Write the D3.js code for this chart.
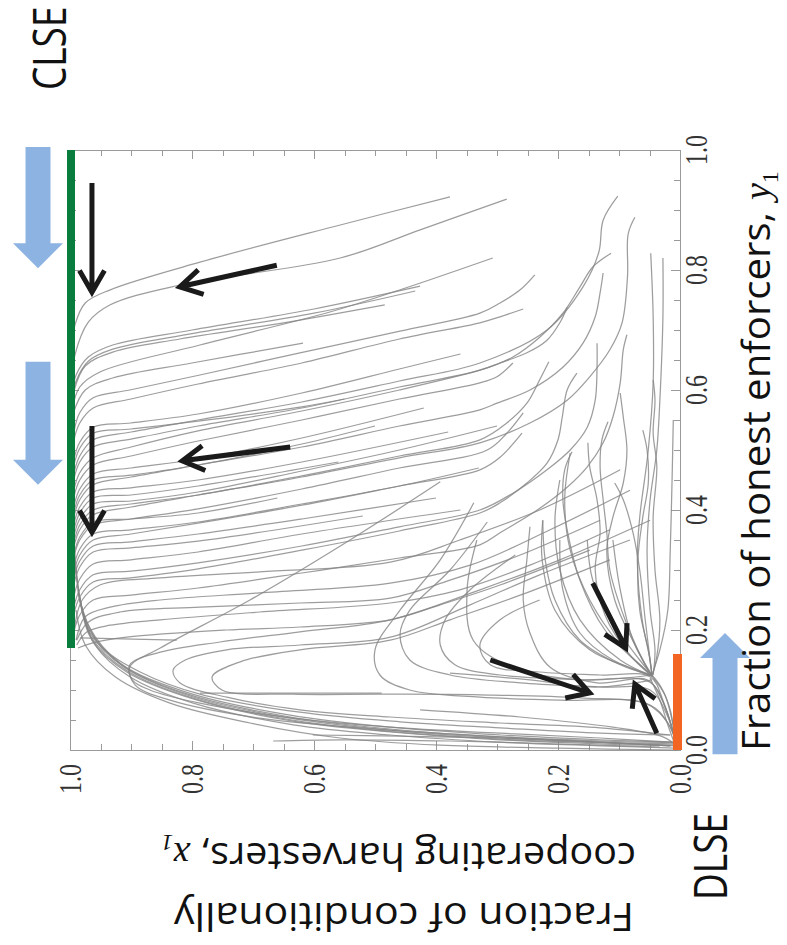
<!DOCTYPE html>
<meta charset="utf-8">
<style>
  body { margin: 0; background: #fff; }
  svg { display: block; }
  .traj { fill: none; stroke: #858585; stroke-width: 1.25; stroke-opacity: 0.8; }
  .frame path, .frame line { stroke: #9a9a9a; stroke-width: 1; shape-rendering: crispEdges; }
  .tick-label { font-family: "Liberation Serif", "Times New Roman", serif; font-size: 24px; fill: #333; }
  .axis-title { font-family: "Open Sans", sans-serif; font-size: 38px; fill: #111; }
  .eq-label { font-family: "Open Sans", sans-serif; font-size: 37px; fill: #111; }
  .flow-arrow { fill: none; stroke: #1a1a1a; stroke-width: 5; stroke-linejoin: miter; }
</style>
<svg width="787" height="945"></svg>
<script src="https://cdn.jsdelivr.net/npm/d3@7"></script>
<script>
  'use strict';

  // trajectories, points are [x1, y1]
  // upper flows that run into the CLSE line x1 = 1
  const upperFlows = [
    [[0.377,0.922],[0.557,0.875],[0.787,0.813],[0.934,0.767],[0.975,0.745],[0.992,0.708],[0.997,0.675]],
    [[0.284,0.918],[0.426,0.867],[0.557,0.82],[0.82,0.775],[0.934,0.742],[0.97,0.713],[0.992,0.658],[0.997,0.617]],
    [[0.426,0.773],[0.60,0.735],[0.80,0.70],[0.93,0.675],[0.97,0.655],[0.99,0.625],[0.998,0.59]],
    [[0.434,0.765],[0.60,0.728],[0.80,0.694],[0.93,0.668],[0.97,0.648],[0.99,0.615],[0.998,0.58]],
    [[0.484,0.742],[0.65,0.712],[0.82,0.685],[0.93,0.663],[0.975,0.64],[0.993,0.60]],
    [[0.618,0.678],[0.80,0.645],[0.93,0.62],[0.975,0.60],[0.995,0.56]],
    [[0.307,0.82],[0.45,0.77],[0.574,0.73],[0.787,0.675],[0.951,0.63],[0.984,0.605],[0.997,0.565]],
    [[0.36,0.66],[0.46,0.635],[0.62,0.595],[0.79,0.56],[0.90,0.545],[0.962,0.538],[0.984,0.513],[0.994,0.483]],
    [[0.55,0.585],[0.62,0.572],[0.79,0.548],[0.90,0.535],[0.962,0.528],[0.984,0.503],[0.994,0.473]],
    [[0.42,0.57],[0.62,0.52],[0.79,0.485],[0.90,0.47],[0.962,0.46],[0.984,0.435],[0.994,0.405]],
    [[0.50,0.54],[0.62,0.51],[0.79,0.475],[0.90,0.458],[0.962,0.45],[0.984,0.425],[0.994,0.395]],
    [[0.38,0.53],[0.62,0.48],[0.79,0.45],[0.90,0.437],[0.962,0.43],[0.984,0.405],[0.994,0.375]],
    [[0.56,0.48],[0.79,0.44],[0.90,0.425],[0.962,0.42],[0.984,0.395],[0.994,0.365]],
    [[0.30,0.54],[0.46,0.50],[0.62,0.465],[0.79,0.43],[0.90,0.415],[0.962,0.41],[0.984,0.385],[0.994,0.355]],
    [[0.66,0.42],[0.79,0.395],[0.90,0.385],[0.962,0.38],[0.984,0.355],[0.994,0.325]],
    [[0.33,0.47],[0.46,0.44],[0.62,0.41],[0.79,0.38],[0.90,0.367],[0.962,0.36],[0.984,0.335],[0.994,0.305]],
    [[0.40,0.42],[0.62,0.385],[0.79,0.36],[0.90,0.347],[0.962,0.34],[0.984,0.315],[0.994,0.285]],
    [[0.52,0.39],[0.79,0.348],[0.90,0.337],[0.962,0.33],[0.984,0.305],[0.994,0.275]],
    [[0.36,0.40],[0.62,0.36],[0.79,0.33],[0.90,0.317],[0.962,0.31],[0.984,0.285],[0.994,0.255]]
  ];

  // flows that start near x1 = 0 at high y1, drop, then swing over to x1 = 1
  const sweepFlows = [
    [[0.102,0.923],[0.126,0.883],[0.133,0.83],[0.159,0.772],[0.218,0.70],[0.328,0.645],[0.46,0.615],[0.62,0.58],[0.79,0.55],[0.90,0.53],[0.962,0.517],[0.984,0.49],[0.994,0.46]],
    [[0.074,0.888],[0.085,0.86],[0.086,0.79],[0.095,0.712],[0.115,0.667],[0.148,0.622],[0.185,0.583],[0.246,0.545],[0.328,0.512],[0.46,0.487],[0.62,0.455],[0.79,0.425],[0.90,0.405],[0.962,0.392],[0.984,0.367],[0.994,0.337]],
    [[0.113,0.828],[0.143,0.805],[0.164,0.772],[0.192,0.728],[0.23,0.688],[0.274,0.655],[0.328,0.633],[0.46,0.605],[0.62,0.57],[0.79,0.54],[0.90,0.518],[0.962,0.505],[0.984,0.48],[0.994,0.45]],
    [[0.126,0.795],[0.131,0.762],[0.139,0.722],[0.159,0.678],[0.192,0.638],[0.246,0.60],[0.30,0.578],[0.328,0.567],[0.46,0.54],[0.62,0.505],[0.79,0.475],[0.90,0.455],[0.962,0.442],[0.984,0.417],[0.994,0.387]],
    [[0.185,0.738],[0.197,0.712],[0.218,0.683],[0.251,0.662],[0.295,0.645],[0.328,0.633],[0.46,0.60],[0.62,0.565],[0.79,0.532],[0.90,0.505],[0.962,0.487],[0.984,0.462],[0.994,0.432]],
    [[0.238,0.792],[0.262,0.767],[0.295,0.745],[0.328,0.728],[0.459,0.698],[0.623,0.662],[0.787,0.625],[0.902,0.60],[0.962,0.587],[0.984,0.562],[0.993,0.533]],
    [[0.257,0.735],[0.295,0.722],[0.328,0.712],[0.46,0.685],[0.62,0.645],[0.79,0.61],[0.90,0.585],[0.962,0.57],[0.984,0.545],[0.994,0.515]],
    [[0.087,0.692],[0.093,0.667],[0.098,0.612],[0.11,0.555],[0.126,0.512],[0.152,0.472],[0.185,0.438],[0.234,0.40],[0.295,0.362],[0.328,0.342],[0.46,0.32],[0.62,0.295],[0.79,0.27],[0.90,0.258],[0.962,0.25],[0.984,0.225],[0.994,0.195]],
    [[0.136,0.678],[0.136,0.638],[0.139,0.583],[0.152,0.538],[0.18,0.50],[0.218,0.467],[0.274,0.428],[0.328,0.40],[0.46,0.372],[0.62,0.34],[0.79,0.312],[0.90,0.298],[0.962,0.292],[0.984,0.267],[0.994,0.237]],
    [[0.169,0.628],[0.185,0.60],[0.193,0.555],[0.20,0.517],[0.218,0.478],[0.251,0.445],[0.295,0.412],[0.328,0.395],[0.46,0.365],[0.62,0.333],[0.79,0.302],[0.90,0.287],[0.962,0.28],[0.984,0.255],[0.994,0.225]],
    [[0.215,0.647],[0.23,0.617],[0.251,0.578],[0.284,0.545],[0.328,0.517],[0.46,0.49],[0.62,0.457],[0.79,0.425],[0.90,0.41],[0.962,0.40],[0.984,0.375],[0.994,0.345]],
    [[0.274,0.645],[0.30,0.622],[0.328,0.612],[0.46,0.585],[0.62,0.55],[0.79,0.515],[0.90,0.49],[0.962,0.475],[0.984,0.45],[0.994,0.42]],
    [[0.257,0.562],[0.284,0.528],[0.316,0.50],[0.46,0.47],[0.62,0.435],[0.79,0.402],[0.90,0.385],[0.962,0.375],[0.984,0.35],[0.994,0.32]],
    [[0.259,0.528],[0.295,0.488],[0.328,0.467],[0.46,0.44],[0.62,0.408],[0.79,0.378],[0.90,0.36],[0.962,0.35],[0.984,0.325],[0.994,0.295]],
    [[0.098,0.467],[0.23,0.40],[0.361,0.35],[0.475,0.313],[0.689,0.297],[0.852,0.287],[0.951,0.275],[0.98,0.25],[0.992,0.208]],
    [[0.082,0.433],[0.213,0.367],[0.344,0.308],[0.475,0.278],[0.689,0.262],[0.852,0.25],[0.934,0.238],[0.975,0.222],[0.99,0.183]],
    [[0.131,0.383],[0.262,0.325],[0.377,0.283],[0.475,0.253],[0.623,0.245],[0.787,0.238],[0.918,0.23],[0.97,0.213],[0.989,0.183]],
    [[0.115,0.367],[0.246,0.308],[0.361,0.267],[0.475,0.245],[0.689,0.23],[0.852,0.217],[0.934,0.208],[0.972,0.197],[0.989,0.175]],
    [[0.148,0.333],[0.295,0.275],[0.393,0.242],[0.475,0.217],[0.623,0.205],[0.743,0.20],[0.907,0.188],[0.964,0.178],[0.987,0.17]]
  ];

  // loops in the lower half that turn back towards x1 = 0
  const loopFlows = [
    [[0.049,0.383],[0.197,0.317],[0.328,0.267],[0.475,0.217],[0.623,0.197],[0.754,0.18],[0.852,0.163],[0.902,0.142],[0.898,0.117],[0.869,0.10],[0.787,0.078],[0.634,0.053],[0.475,0.038],[0.295,0.028],[0.131,0.02],[0.013,0.013]],
    [[0.082,0.35],[0.23,0.292],[0.344,0.242],[0.475,0.188],[0.623,0.175],[0.743,0.167],[0.811,0.15],[0.831,0.133],[0.82,0.112],[0.743,0.088],[0.623,0.067],[0.475,0.055],[0.295,0.045],[0.131,0.037],[0.016,0.025]],
    [[0.115,0.317],[0.262,0.258],[0.377,0.217],[0.475,0.183],[0.623,0.167],[0.721,0.147],[0.767,0.122],[0.751,0.10],[0.634,0.093],[0.489,0.093],[0.328,0.092],[0.164,0.087],[0.049,0.075],[0.02,0.045],[0.006,0.012]],
    [[0.787,0.095],[0.639,0.095],[0.489,0.095]],
    [[0.338,0.412],[0.393,0.317],[0.459,0.233],[0.50,0.167],[0.492,0.125],[0.443,0.10],[0.328,0.088],[0.197,0.083],[0.057,0.078],[0.02,0.045],[0.006,0.012]],
    [[0.316,0.38],[0.377,0.30],[0.443,0.233],[0.459,0.192],[0.443,0.15],[0.377,0.125],[0.262,0.112],[0.131,0.105],[0.049,0.10],[0.022,0.06],[0.007,0.015]],
    [[0.27,0.325],[0.344,0.267],[0.385,0.217],[0.393,0.175],[0.369,0.142],[0.295,0.125],[0.164,0.117],[0.049,0.113],[0.024,0.07],[0.008,0.018]],
    [[0.23,0.25],[0.295,0.217],[0.328,0.175],[0.311,0.142],[0.23,0.13],[0.131,0.125],[0.049,0.122],[0.027,0.08],[0.009,0.02]],
    [[0.246,0.372],[0.251,0.317],[0.257,0.25],[0.246,0.195],[0.213,0.138],[0.136,0.112],[0.054,0.117],[0.03,0.085],[0.01,0.025]],
    [[0.225,0.383],[0.221,0.317],[0.205,0.25],[0.164,0.183],[0.098,0.142],[0.049,0.125]],
    [[0.18,0.495],[0.189,0.417],[0.18,0.333],[0.148,0.25],[0.098,0.175],[0.052,0.13]],
    [[0.197,0.45],[0.205,0.383],[0.197,0.30],[0.164,0.217],[0.098,0.15],[0.049,0.125]],
    [[0.377,0.128],[0.246,0.117],[0.136,0.105],[0.046,0.117]],
    [[0.333,0.35],[0.349,0.267],[0.339,0.183],[0.274,0.138],[0.164,0.117],[0.046,0.125]],
    [[0.197,0.35],[0.192,0.267],[0.164,0.195],[0.11,0.15],[0.046,0.125]],
    [[0.152,0.35],[0.143,0.283],[0.11,0.212],[0.066,0.15],[0.046,0.125]],
    [[0.11,0.35],[0.098,0.267],[0.077,0.183],[0.046,0.125]],
    [[0.393,0.447],[0.541,0.35],[0.705,0.25],[0.852,0.17],[0.902,0.138],[0.893,0.108],[0.836,0.083],[0.689,0.053],[0.475,0.033],[0.295,0.022],[0.131,0.013],[0.016,0.007]]
  ];

  // near-vertical flows close to x1 = 0 that fall into the DLSE corner
  const edgeFlows = [
    [[0.048,0.828],[0.044,0.722],[0.044,0.612],[0.052,0.50],[0.066,0.388],[0.07,0.317],[0.062,0.217],[0.049,0.15],[0.046,0.125]],
    [[0.028,0.82],[0.028,0.722],[0.033,0.583],[0.038,0.50],[0.049,0.417],[0.054,0.333],[0.049,0.233],[0.041,0.167],[0.044,0.125]],
    [[0.044,0.617],[0.041,0.583],[0.044,0.528],[0.038,0.472],[0.044,0.388],[0.041,0.30],[0.033,0.217],[0.039,0.15],[0.046,0.122]],
    [[0.098,0.595],[0.093,0.555],[0.087,0.50],[0.093,0.445],[0.11,0.388],[0.12,0.333],[0.107,0.25],[0.074,0.175],[0.048,0.125]],
    [[0.118,0.547],[0.128,0.517],[0.131,0.472],[0.126,0.417],[0.12,0.362],[0.115,0.30],[0.09,0.217],[0.061,0.15],[0.046,0.123]],
    [[0.151,0.512],[0.148,0.472],[0.136,0.417],[0.131,0.362],[0.139,0.30],[0.123,0.225],[0.082,0.158],[0.048,0.125]],
    [[0.177,0.497],[0.189,0.467],[0.192,0.417],[0.184,0.362],[0.164,0.283],[0.123,0.20],[0.066,0.142],[0.046,0.123]],
    [[0.061,0.533],[0.054,0.50],[0.052,0.445],[0.061,0.388],[0.069,0.317],[0.066,0.233],[0.052,0.167],[0.046,0.125]],
    [[0.107,0.445],[0.093,0.417],[0.077,0.362],[0.066,0.30],[0.057,0.217],[0.046,0.125]],
    [[0.011,0.55],[0.013,0.45],[0.016,0.333],[0.02,0.233],[0.033,0.167],[0.046,0.125]],
    [[0.225,0.383],[0.226,0.317],[0.205,0.233],[0.148,0.167],[0.082,0.137],[0.046,0.123]],
    [[0.046,0.125],[0.03,0.103],[0.016,0.067],[0.01,0.033],[0.005,0.008]],
    [[0.046,0.123],[0.025,0.092],[0.013,0.05],[0.007,0.017]],
    [[0.049,0.12],[0.033,0.083],[0.02,0.042],[0.008,0.008]]
  ];

  // flows hugging the bottom edge; some sweep round to x1 = 1
  const bottomFlows = [
    [[0.007,0.003],[0.131,0.007],[0.295,0.013],[0.475,0.025],[0.634,0.042],[0.798,0.078],[0.902,0.122],[0.959,0.175],[0.98,0.233],[0.99,0.30],[0.995,0.367]],
    [[0.007,0.007],[0.131,0.01],[0.295,0.017],[0.475,0.03],[0.634,0.048],[0.798,0.085],[0.907,0.13],[0.964,0.183],[0.984,0.25],[0.992,0.317]],
    [[0.006,0.008],[0.131,0.012],[0.295,0.018],[0.475,0.031],[0.636,0.05],[0.80,0.087],[0.908,0.133],[0.965,0.188],[0.984,0.255]],
    [[0.008,0.01],[0.131,0.013],[0.295,0.02],[0.475,0.033],[0.639,0.053],[0.803,0.09],[0.91,0.137],[0.967,0.195],[0.985,0.258]],
    [[0.009,0.012],[0.131,0.015],[0.295,0.022],[0.475,0.035],[0.639,0.055],[0.807,0.093],[0.914,0.141],[0.968,0.2],[0.986,0.262]],
    [[0.01,0.013],[0.131,0.017],[0.295,0.025],[0.475,0.038],[0.639,0.058],[0.811,0.097],[0.918,0.145],[0.97,0.208],[0.987,0.267]],
    [[0.003,0.0],[0.197,0.003],[0.393,0.008],[0.557,0.02],[0.705,0.045],[0.836,0.078],[0.926,0.122],[0.975,0.175],[0.99,0.233]],
    [[0.016,0.025],[0.131,0.028],[0.295,0.037],[0.459,0.047],[0.623,0.063],[0.787,0.093],[0.885,0.13],[0.951,0.175],[0.979,0.233],[0.99,0.30],[0.995,0.383]],
    [[0.667,0.015],[0.557,0.017],[0.377,0.015],[0.197,0.01],[0.033,0.005]],
    [[0.602,0.025],[0.459,0.023],[0.295,0.02],[0.131,0.013],[0.016,0.007]],
    [[0.984,0.187],[0.825,0.183]],
    [[0.426,0.067],[0.262,0.055],[0.11,0.038],[0.028,0.022],[0.005,0.007]]
  ];

  // black flow arrows, [x1, y1] tail and head
  const flowArrows = [
    {from: [0.964, 0.945], to: [0.964, 0.763]},
    {from: [0.661, 0.808], to: [0.820, 0.772]},
    {from: [0.964, 0.540], to: [0.964, 0.363]},
    {from: [0.639, 0.505], to: [0.816, 0.482]},
    {from: [0.311, 0.150], to: [0.148, 0.095]},
    {from: [0.143, 0.278], to: [0.089, 0.170]},
    {from: [0.038, 0.028], to: [0.074, 0.110]}
  ];

  // stable sets: CLSE on x1 = 1, DLSE on x1 = 0 (y1 ranges)
  const clseRange = [0.17, 1.0];
  const dlseRange = [0.0, 0.16];

  // big blue arrows beside the stable sets, y1 of tail and tip
  const clseArrows = [{from: 1.005, to: 0.803}, {from: 0.647, to: 0.442}];
  const dlseArrows = [{from: -0.007, to: 0.195}];

  const majorTicks = [0, 0.2, 0.4, 0.6, 0.8, 1.0];
  const tickText = ["0.0", "0.2", "0.4", "0.6", "0.8", "1.0"];

  const svg = d3.select("svg");

  // the figure is turned a quarter turn: x1 runs right to left, y1 bottom to top
  const x = d3.scaleLinear().domain([0, 1]).range([680, 70]);
  const y = d3.scaleLinear().domain([0, 1]).range([750, 150]);

  // frame with inward ticks on all sides
  const frame = svg.append("g").attr("class", "frame");
  [[5, 9], [20, 6]].forEach(([n, len]) => {
    frame.append("g").attr("transform", `translate(0,${y(0)})`)
      .call(d3.axisBottom(x).ticks(n).tickSize(-len).tickSizeOuter(0).tickFormat(""));
    frame.append("g").attr("transform", `translate(0,${y(1)})`)
      .call(d3.axisTop(x).ticks(n).tickSize(-len).tickSizeOuter(0).tickFormat(""));
    frame.append("g").attr("transform", `translate(${x(1)},0)`)
      .call(d3.axisLeft(y).ticks(n).tickSize(-len).tickSizeOuter(0).tickFormat(""));
    frame.append("g").attr("transform", `translate(${x(0)},0)`)
      .call(d3.axisRight(y).ticks(n).tickSize(-len).tickSizeOuter(0).tickFormat(""));
  });

  // tick labels, all read bottom to top
  svg.append("g").selectAll("text")
    .data(majorTicks)
    .join("text")
    .attr("class", "tick-label")
    .attr("text-anchor", "middle")
    .attr("dy", "0.34em")
    .attr("transform", (d) => `translate(${x(d)},779) rotate(-90) scale(1,1.3)`)
    .text((d, i) => tickText[i]);

  svg.append("g").selectAll("text")
    .data(majorTicks)
    .join("text")
    .attr("class", "tick-label")
    .attr("text-anchor", "middle")
    .attr("dy", "0.34em")
    .attr("transform", (d) => `translate(696,${y(d)}) rotate(-90) scale(1,1.3)`)
    .text((d, i) => tickText[i]);

  // trajectories
  const line = d3.line()
    .x((d) => x(d[0]))
    .y((d) => y(d[1]))
    .curve(d3.curveCatmullRom.alpha(0.5));

  const flows = [].concat(upperFlows, sweepFlows, loopFlows, edgeFlows, bottomFlows);
  svg.append("g").selectAll("path")
    .data(flows)
    .join("path")
    .attr("class", "traj")
    .attr("d", line);

  // stable sets
  svg.append("rect")
    .attr("x", x(1) - 3).attr("width", 8)
    .attr("y", y(clseRange[1])).attr("height", y(clseRange[0]) - y(clseRange[1]))
    .attr("fill", "#0a7d3e");
  svg.append("rect")
    .attr("x", x(0) - 7).attr("width", 9)
    .attr("y", y(dlseRange[1])).attr("height", y(dlseRange[0]) - y(dlseRange[1]))
    .attr("fill", "#f26522");

  // black flow arrows
  const arm = 25, spread = 30 * Math.PI / 180;
  svg.append("g").selectAll("path")
    .data(flowArrows)
    .join("path")
    .attr("class", "flow-arrow")
    .attr("d", (d) => {
      const x0 = x(d.from[0]), y0 = y(d.from[1]);
      const x1 = x(d.to[0]), y1 = y(d.to[1]);
      const a = Math.atan2(y0 - y1, x0 - x1);
      const ax = x1 + arm * Math.cos(a - spread), ay = y1 + arm * Math.sin(a - spread);
      const bx = x1 + arm * Math.cos(a + spread), by = y1 + arm * Math.sin(a + spread);
      return `M${x0},${y0}L${x1},${y1}M${ax},${ay}L${x1},${y1}L${bx},${by}`;
    });

  // block arrows
  function blockArrow(cx, from, to) {
    const y0 = y(from), y1 = y(to), dir = Math.sign(y1 - y0), hb = y1 - dir * 25;
    return `M${cx - 12.5},${y0}L${cx + 12.5},${y0}L${cx + 12.5},${hb}L${cx + 25},${hb}` +
      `L${cx},${y1}L${cx - 25},${hb}L${cx - 12.5},${hb}Z`;
  }
  svg.append("g").selectAll("path")
    .data(clseArrows)
    .join("path")
    .attr("fill", "#8db3e2")
    .attr("d", (d) => blockArrow(38, d.from, d.to));
  svg.append("g").selectAll("path")
    .data(dlseArrows)
    .join("path")
    .attr("fill", "#8db3e2")
    .attr("d", (d) => blockArrow(725, d.from, d.to));

  // equilibrium names
  svg.append("text").attr("class", "eq-label")
    .attr("transform", "translate(66,90) rotate(-90) scale(1,1.22)")
    .text("CLSE");
  svg.append("text").attr("class", "eq-label")
    .attr("transform", "translate(727,900) rotate(-90) scale(1,1.22)")
    .text("DLSE");

  // axis titles
  const yTitle = svg.append("text").attr("class", "axis-title")
    .attr("transform", "translate(770,751) rotate(-90)");
  yTitle.append("tspan").attr("textLength", 539).attr("lengthAdjust", "spacingAndGlyphs")
    .text("Fraction of honest enforcers,");
  yTitle.append("tspan").attr("dx", 12)
    .style("font-family", "'Liberation Serif', serif").style("font-style", "italic")
    .text("y");
  yTitle.append("tspan").attr("dy", 8).style("font-size", "24px")
    .style("font-family", "'Liberation Serif', serif")
    .text("1");

  svg.append("text").attr("class", "axis-title")
    .attr("transform", "translate(634,903) rotate(180)")
    .attr("textLength", 460).attr("lengthAdjust", "spacingAndGlyphs")
    .text("Fraction of conditionally");
  const xTitle = svg.append("text").attr("class", "axis-title")
    .attr("transform", "translate(636,843) rotate(180)");
  xTitle.append("tspan").attr("textLength", 436).attr("lengthAdjust", "spacingAndGlyphs")
    .text("cooperating harvesters,");
  xTitle.append("tspan").attr("dx", 10)
    .style("font-family", "'Liberation Serif', serif").style("font-style", "italic")
    .text("x");
  xTitle.append("tspan").attr("dy", 8).style("font-size", "24px")
    .style("font-family", "'Liberation Serif', serif").style("font-style", "italic")
    .text("1");
</script>
